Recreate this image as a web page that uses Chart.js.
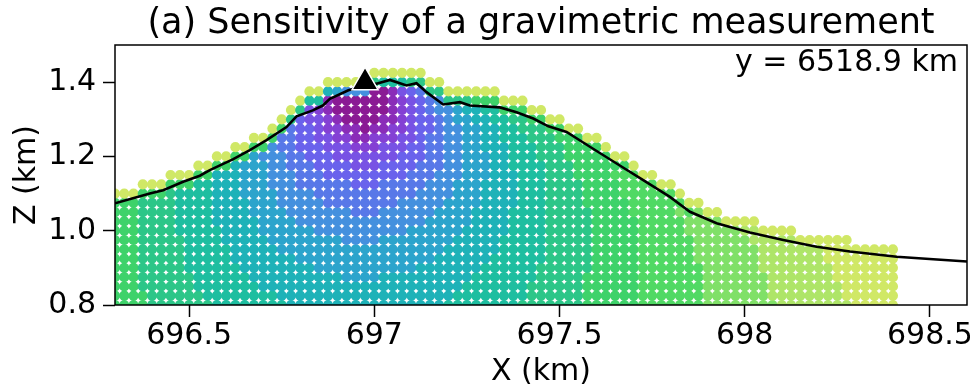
<!DOCTYPE html>
<html>
<head>
<meta charset="utf-8">
<script src="https://cdn.jsdelivr.net/npm/chart.js@4.4.1/dist/chart.umd.min.js"></script>
<style>
  html, body { margin: 0; padding: 0; background: #ffffff; }
  #wrap { width: 970px; height: 384px; }
</style>
</head>
<body>
<div id="wrap"><canvas id="chart" width="970" height="384"></canvas></div>
<script>
// ---- Figure text -------------------------------------------------------
const chartTitle = '(a) Sensitivity of a gravimetric measurement';
const profileLabel = 'y = 6518.9 km';
const xTicks = [696.5, 697, 697.5, 698, 698.5];
const zTicks = [0.8, 1.0, 1.2, 1.4];

// ---- Mesh definition (km) ---------------------------------------------
const meshX0 = 696.3;      // first column centre
const meshZ0 = 0.8;        // first layer centre
const meshStep = 0.025;    // cell size
// Index of the uppermost layer in each of the 85 columns
const columnTop = [12,12,12, 13,13,13, 14,14,14, 15,15, 16,16, 17,17, 18,18, 19, 20, 21, 22, 23,23,
  24,24,24,24,24, 25,25,25,25,25,25, 24,24, 23,23,23,23,23,23, 22,22,22, 21,21, 20,20, 19,19,
  18,18, 17, 16,16, 15, 14,14, 13,13, 12, 11,11, 10,10, 9,9,9,9, 8,8,8,8, 7,7,7,7,7,7, 6,6,6,6,6];

// Sensitivity class of every cell (0 = strongest ... f = weakest),
// one run-length string per layer from the bottom: <class><count>
const layerClasses = [
  'b4 a7 98 817 98 a7 b6 c7 d8 e8 f5',
  'b4 a6 98 819 98 a6 b6 c7 d7 e8 f6',
  'b3 a6 97 822 97 a6 b6 c7 d7 e8 f6',
  'b3 a6 96 810 74 810 97 a5 b6 c7 d7 e7 f7',
  'b3 a5 96 88 711 87 96 a6 b5 c7 d6 e8 f7',
  'b3 a5 95 87 715 86 96 a5 b5 c6 d7 e7 f8',
  'b3 a5 95 85 718 86 95 a5 b5 c6 d7 e7 f8',
  'b3 a5 94 85 78 64 78 85 95 a5 b5 c6 d6 e7 f9',
  'b3 a4 95 84 76 610 76 85 94 a5 b5 c5 d6 e7 f10',
  'b3 a4 94 85 74 614 75 84 94 a5 b5 c5 d6 e7 f10',
  'b3 a4 94 84 74 67 53 66 74 84 94 a5 b4 c5 d6 e7 f11',
  'b3 a4 94 84 73 65 58 65 74 84 93 a4 b5 c5 d6 e6 f12',
  'b3 a4 94 83 74 64 511 64 73 84 93 a4 b4 c5 d6 e6 f13',
  'b4 a3 94 83 73 63 56 43 55 63 73 84 93 a4 b4 c5 d5 e6 f14',
  'b4 a4 93 83 73 63 53 49 53 63 73 83 93 a3 b4 c5 d26',
  'b5 a3 93 83 73 62 53 44 33 44 53 62 73 82 94 a3 b4 c4 d27',
  'b5 a3 93 83 72 63 52 43 37 43 52 62 73 82 93 a3 b4 c4 d28',
  'b6 a3 93 82 72 62 52 43 33 23 33 42 52 62 72 83 93 a3 b3 c33',
  'c3 b4 a3 92 82 72 62 52 42 32 22 12 23 32 41 52 62 72 82 93 a3 b3 c34',
  'b8 a2 93 82 72 61 52 42 31 22 12 01 12 22 31 42 51 62 72 82 92 a3 b38',
  'b9 a2 92 82 72 62 51 41 32 21 11 04 12 21 31 42 51 61 72 82 92 a3 b39',
  'b10 a2 92 82 72 61 51 41 31 21 11 06 11 21 31 41 51 62 71 82 92 a2 b41',
  'b12 a2 92 81 72 61 51 41 31 11 06 11 21 31 41 51 61 71 82 92 a2 b42',
  'b15 a1 92 81 71 61 51 41 21 06 11 31 41 51 61 71 81 91 a2 b45'
];
// Partly filled cells at the surface: uppermost cell and the one below it
const surfaceClasses = 'f85';
const subsurfaceClasses = 'b19 a2 92 81 71 63 a1 93 a7 b17 c7 d5 e9 f8';

// ---- Topography along the profile (km) ---------------------------------
const topoX = [696.3, 696.394, 696.43, 696.484, 696.529, 696.556, 696.618, 696.664, 696.709, 696.763,
  696.79, 696.834, 696.861, 696.88, 696.93, 696.975, 697.006, 697.042, 697.087, 697.114, 697.141,
  697.186, 697.231, 697.258, 697.339, 697.384, 697.429, 697.47, 697.519, 697.582, 697.654, 697.726,
  697.798, 697.852, 697.924, 698.014, 698.104, 698.194, 698.284, 698.41, 698.509, 698.6];
const topoZ = [1.074, 1.100, 1.109, 1.132, 1.148, 1.163, 1.192, 1.217, 1.244, 1.279,
  1.308, 1.324, 1.337, 1.355, 1.378, 1.390, 1.396, 1.406, 1.391, 1.397, 1.373,
  1.340, 1.346, 1.337, 1.332, 1.319, 1.302, 1.281, 1.266, 1.226, 1.181, 1.136,
  1.091, 1.051, 1.020, 0.995, 0.975, 0.957, 0.944, 0.930, 0.923, 0.917];

// Gravimeter station
const stationX = [696.975];
const stationZ = [1.40];

// ---- Colour scale for the sensitivity classes ---------------------------
const classColors = ['#8a1a94','#8a2cb8','#8440d4','#7852e4','#6a62ec','#5878e8','#4490de','#2ca4cc',
                     '#1eb2b8','#1ebea0','#2cc688','#3ed26a','#50d964','#80e068','#aee568','#d0e866'];

function expandRuns(str) {
  const out = [];
  for (const tok of str.trim().split(/\s+/)) {
    const cls = tok[0];
    const n = parseInt(tok.slice(1), 10);
    for (let i = 0; i < n; i++) out.push(cls);
  }
  return out;
}

const layers = layerClasses.map(expandRuns);
const surface = expandRuns(surfaceClasses);
const subsurface = expandRuns(subsurfaceClasses);

const cellPoints = [];
const cellColors = [];
const maxTop = Math.max(...columnTop);
for (let k = 0; k <= maxTop; k++) {
  for (let c = 0; c < columnTop.length; c++) {
    const top = columnTop[c];
    if (k > top) continue;
    let cls;
    if (k === top) cls = surface[c];
    else if (k === top - 1) cls = subsurface[c];
    else cls = layers[k][c];
    cellPoints.push({ x: meshX0 + c * meshStep, y: meshZ0 + k * meshStep });
    cellColors.push(classColors[parseInt(cls, 16)]);
  }
}

const topoPoints = topoX.map((x, i) => ({ x, y: topoZ[i] }));
const stationPoints = stationX.map((x, i) => ({ x, y: stationZ[i] }));

// Frame around the plot, title centred over the axes, profile annotation
const framePlugin = {
  id: 'frame',
  afterDraw(chart) {
    const { ctx, chartArea: a } = chart;
    ctx.save();
    ctx.strokeStyle = '#000';
    ctx.lineWidth = 1.5;
    ctx.strokeRect(a.left, a.top, a.right - a.left, a.bottom - a.top);
    ctx.fillStyle = '#000';
    ctx.textBaseline = 'middle';
    ctx.font = '35px "DejaVu Sans"';
    ctx.textAlign = 'center';
    ctx.fillText(chartTitle, (a.left + a.right) / 2, 24);
    ctx.font = '30px "DejaVu Sans"';
    ctx.textAlign = 'right';
    ctx.fillText(profileLabel, a.right - 9, a.top + 18);
    ctx.restore();
  }
};

Chart.defaults.font.family = '"DejaVu Sans", sans-serif';
Chart.defaults.color = '#000';

const tickFont = { family: '"DejaVu Sans"', size: 30, lineHeight: 1.2 };

new Chart(document.getElementById('chart'), {
  type: 'scatter',
  data: {
    datasets: [
      {
        label: 'station',
        data: stationPoints,
        pointStyle: 'triangle',
        pointRadius: 15,
        pointBackgroundColor: '#000',
        pointBorderColor: '#fff',
        pointBorderWidth: 1.5,
        order: 0,
        clip: false
      },
      {
        type: 'line',
        label: 'topography',
        data: topoPoints,
        borderColor: '#000',
        borderWidth: 2.6,
        pointRadius: 0,
        fill: false,
        tension: 0,
        order: 1,
        clip: 0
      },
      {
        label: 'sensitivity',
        data: cellPoints,
        pointRadius: 5.1,
        pointBackgroundColor: cellColors,
        pointBorderWidth: 0,
        order: 2,
        clip: 0
      }
    ]
  },
  options: {
    responsive: false,
    animation: false,
    devicePixelRatio: 1,
    events: [],
    layout: { autoPadding: false, padding: { left: 0, right: 3, top: 45, bottom: 0 } },
    plugins: {
      legend: { display: false },
      tooltip: { enabled: false },
      title: { display: false }
    },
    scales: {
      x: {
        type: 'linear',
        min: 696.3,
        max: 698.6,
        afterBuildTicks: s => { s.ticks = xTicks.map(v => ({ value: v })); },
        afterFit: s => { s.height = 79; s.paddingLeft = 0; s.paddingRight = 0; },
        border: { display: false },
        grid: { display: true, drawOnChartArea: false, drawTicks: true, tickLength: 12, tickWidth: 1.5, tickColor: '#000' },
        ticks: { color: '#000', font: tickFont, padding: 1, maxRotation: 0, autoSkip: false, callback: v => String(v) },
        title: { display: true, text: 'X (km)', color: '#000', font: { family: '"DejaVu Sans"', size: 30, lineHeight: 0.8 }, padding: 0 }
      },
      y: {
        type: 'linear',
        min: 0.8,
        max: 1.5,
        afterBuildTicks: s => { s.ticks = zTicks.map(v => ({ value: v })); },
        afterFit: s => { s.width = 115; s.paddingTop = 0; s.paddingBottom = 0; },
        border: { display: false },
        grid: { display: true, drawOnChartArea: false, drawTicks: true, tickLength: 12, tickWidth: 1.5, tickColor: '#000' },
        ticks: { color: '#000', font: tickFont, padding: 7, autoSkip: false, callback: v => Number(v).toFixed(1) },
        title: { display: true, text: 'Z (km)', color: '#000', font: { family: '"DejaVu Sans"', size: 30, lineHeight: 1.2 }, padding: { top: 9.5, bottom: 0 } }
      }
    }
  },
  plugins: [framePlugin]
});
</script>
</body>
</html>
